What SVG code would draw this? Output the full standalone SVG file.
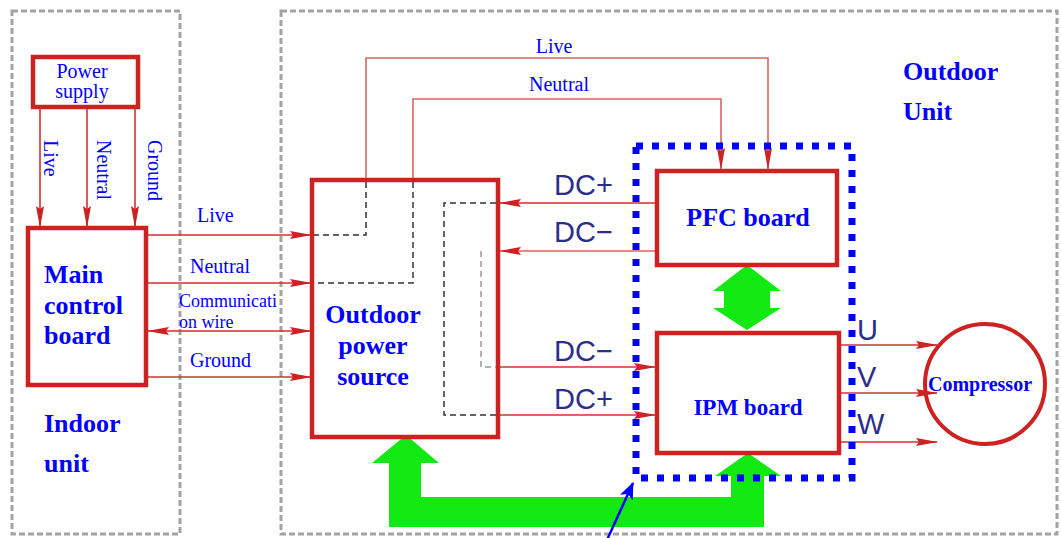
<svg xmlns="http://www.w3.org/2000/svg" width="1061" height="538" viewBox="0 0 1061 538">
<style>
.zone{fill:none;stroke:#a3a3a3;stroke-width:3;stroke-dasharray:6 3}
.box{fill:#fff;stroke:#cc2222;stroke-width:4.5}
.w{fill:none;stroke:#cc3333;stroke-width:1.6}
.wl{fill:none;stroke:#d86464;stroke-width:1.6}
.dash{fill:none;stroke:#333;stroke-width:1.5;stroke-dasharray:6 4}
.dashl{fill:none;stroke:#999;stroke-width:1.5;stroke-dasharray:6 4}
.t{font-family:"Liberation Serif","Times New Roman",serif;fill:#0000ff;font-size:20px}
.b{font-family:"Liberation Serif","Times New Roman",serif;fill:#0000ff;font-weight:bold;font-size:26px}
.dc{font-family:"Liberation Sans",Arial,sans-serif;fill:#2d2d8c;font-size:29px}
.green{fill:#12e812}
</style>
<defs>
<marker id="ar" markerUnits="userSpaceOnUse" markerWidth="22" markerHeight="10" refX="21" refY="5" orient="auto-start-reverse">
<path d="M0,1 L22,5 L0,9 L3,5 Z" fill="#cc2222"/>
</marker>
<marker id="ab" markerUnits="userSpaceOnUse" markerWidth="18" markerHeight="14" refX="16" refY="7" orient="auto">
<path d="M0,0 L17,7 L0,14 L4,7 Z" fill="#0000ff"/>
</marker>
</defs>
<rect width="1061" height="538" fill="#fff"/>

<g id="indoor-zone">
<rect class="zone" x="12" y="11" width="168" height="523"/>
<text class="b" x="44" y="432">Indoor</text>
<text class="b" x="44" y="472">unit</text>
</g>
<g id="outdoor-zone">
<rect class="zone" x="281" y="11" width="776" height="523"/>
<text class="b" x="903" y="80">Outdoor</text>
<text class="b" x="903" y="120">Unit</text>
</g>

<g id="green-arrows">
<polygon class="green" points="747,265 781,291 770,291 770,308 781,308 747,330 713,308 724,308 724,291 713,291"/>
<polygon class="green" points="406,435 439,463 421,463 421,497 731,497 731,476 715,476 748,453 781,476 764,476 764,527 389,527 389,463 372,463"/>
</g>

<g id="power-supply">
<rect class="box" x="33" y="57" width="105" height="50"/>
<text class="t" x="82" y="78" text-anchor="middle">Power</text>
<text class="t" x="82" y="98" text-anchor="middle">supply</text>
</g>

<g id="main-control-board">
<rect class="box" x="28" y="228" width="118" height="157"/>
<text class="b" x="44" y="283">Main</text>
<text class="b" x="44" y="314">control</text>
<text class="b" x="44" y="344">board</text>
</g>

<g id="outdoor-power-source">
<rect class="box" x="312" y="180" width="186" height="257"/>
<text class="b" x="373" y="323" text-anchor="middle">Outdoor</text>
<text class="b" x="373" y="354" text-anchor="middle">power</text>
<text class="b" x="373" y="385" text-anchor="middle">source</text>
</g>

<g id="pfc-board">
<rect class="box" x="657" y="171" width="180" height="94"/>
<text class="b" x="748" y="226" text-anchor="middle">PFC board</text>
</g>

<g id="ipm-board">
<rect class="box" x="657" y="333" width="182" height="120"/>
<text class="b" x="748" y="415" text-anchor="middle" style="font-size:23px">IPM board</text>
</g>

<g id="compressor">
<circle cx="985" cy="384" r="60" fill="#fff" stroke="#cc2222" stroke-width="4"/>
<text class="b" x="980" y="391" text-anchor="middle" style="font-size:20px">Compressor</text>
</g>

<g id="connectors">
<path class="w" d="M40,108 V227" marker-end="url(#ar)"/>
<path class="w" d="M87,108 V227" marker-end="url(#ar)"/>
<path class="w" d="M135,108 V227" marker-end="url(#ar)"/>
<text class="t" transform="translate(44,140) rotate(90)">Live</text>
<text class="t" transform="translate(97,140) rotate(90)">Neutral</text>
<text class="t" transform="translate(148,140) rotate(90)">Ground</text>

<path class="w" d="M148,235 H311" marker-end="url(#ar)"/>
<path class="w" d="M148,283 H311" marker-end="url(#ar)"/>
<path class="w" d="M148,331 H311" marker-start="url(#ar)" marker-end="url(#ar)"/>
<path class="w" d="M148,377 H311" marker-end="url(#ar)"/>
<text class="t" x="197" y="222">Live</text>
<text class="t" x="190" y="273">Neutral</text>
<text class="t" x="179" y="307" style="font-size:18px">Communicati</text>
<text class="t" x="179" y="328" style="font-size:18px">on wire</text>
<text class="t" x="190" y="367">Ground</text>

<path class="dash" d="M366,182 V235 H314"/>
<path class="dash" d="M413,182 V283 H314"/>
<path class="wl" d="M366,178 V58 H768 V169" marker-end="url(#ar)"/>
<path class="wl" d="M413,178 V99 H721 V169" marker-end="url(#ar)"/>
<text class="t" x="554" y="53" text-anchor="middle">Live</text>
<text class="t" x="559" y="91" text-anchor="middle">Neutral</text>

<path class="dash" d="M496,203 H444 V415 H496"/>
<path class="dashl" d="M481,251 V367 H496"/>
<path class="w" d="M655,203 H500" marker-end="url(#ar)"/>
<path class="wl" d="M655,251 H500" marker-end="url(#ar)"/>
<path class="w" d="M500,367 H655" marker-end="url(#ar)"/>
<path class="w" d="M500,415 H655" marker-end="url(#ar)"/>
<text class="dc" x="554" y="195">DC+</text>
<text class="dc" x="554" y="242">DC−</text>
<text class="dc" x="554" y="361">DC−</text>
<text class="dc" x="554" y="409">DC+</text>

<path class="w" d="M841,345 H937" marker-end="url(#ar)"/>
<path class="w" d="M841,393 H937" marker-end="url(#ar)"/>
<path class="w" d="M841,442 H937" marker-end="url(#ar)"/>
<text class="dc" x="857" y="340">U</text>
<text class="dc" x="857" y="387">V</text>
<text class="dc" x="857" y="434">W</text>
</g>

<g id="inverter-group">
<rect x="636" y="146" width="216" height="332" fill="none" stroke="#0000ff" stroke-width="7" stroke-dasharray="7 9"/>
<path d="M607,540 L633,483" fill="none" stroke="#0000ff" stroke-width="2.5" marker-end="url(#ab)"/>
</g>
</svg>
